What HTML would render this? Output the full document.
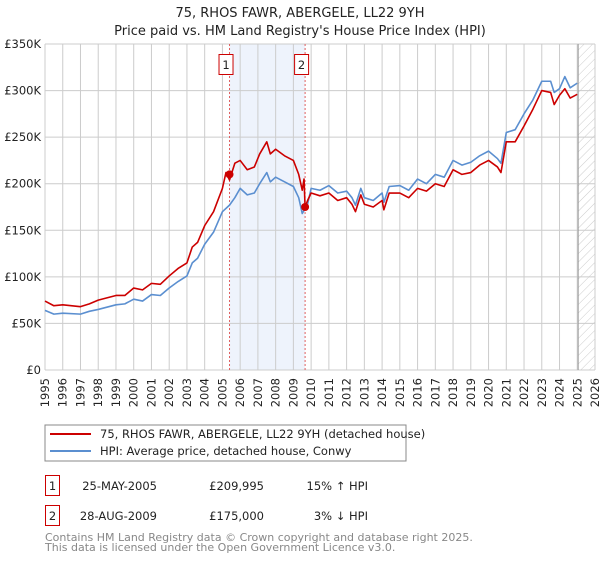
<!DOCTYPE html>
<html><head><meta charset="utf-8"><style>
body{margin:0;background:#fff;font-family:"DejaVu Sans","Liberation Sans",sans-serif;}
svg text{font-family:"DejaVu Sans","Liberation Sans",sans-serif;}
</style></head><body>
<svg id="c" width="600" height="560" xmlns="http://www.w3.org/2000/svg">
<defs><pattern id="hatch" width="6" height="6" patternUnits="userSpaceOnUse" patternTransform="rotate(45)"><line x1="0" y1="0" x2="0" y2="6" stroke="#ccc" stroke-width="1"/></pattern></defs>
<text x="300" y="17" text-anchor="middle" font-size="13" fill="#222">75, RHOS FAWR, ABERGELE, LL22 9YH</text>
<text x="300" y="35" text-anchor="middle" font-size="13" fill="#222">Price paid vs. HM Land Registry's House Price Index (HPI)</text>
<g id="plot"></g>
<rect x="45" y="425" width="361" height="36" fill="#fff" stroke="#888"/>
<line x1="50" y1="434" x2="91" y2="434" stroke="#cc0000" stroke-width="2"/>
<text x="100" y="438" font-size="11.5" fill="#222">75, RHOS FAWR, ABERGELE, LL22 9YH (detached house)</text>
<line x1="50" y1="451" x2="91" y2="451" stroke="#5b8fd0" stroke-width="2"/>
<text x="100" y="455" font-size="11.5" fill="#222">HPI: Average price, detached house, Conwy</text>
<g font-size="11.5" fill="#222">
<rect x="45.5" y="475.5" width="14" height="20" fill="#fff" stroke="#cc0000"/>
<text x="52.5" y="490" text-anchor="middle">1</text>
<text x="157" y="490" text-anchor="end">25-MAY-2005</text>
<text x="264" y="490" text-anchor="end">£209,995</text>
<text x="368" y="490" text-anchor="end">15% ↑ HPI</text>
<rect x="45.5" y="505.5" width="14" height="20" fill="#fff" stroke="#cc0000"/>
<text x="52.5" y="520" text-anchor="middle">2</text>
<text x="157" y="520" text-anchor="end">28-AUG-2009</text>
<text x="264" y="520" text-anchor="end">£175,000</text>
<text x="368" y="520" text-anchor="end">3% ↓ HPI</text>
</g>
<text x="45" y="541" font-size="11" fill="#888">Contains HM Land Registry data © Crown copyright and database right 2025.</text>
<text x="45" y="551" font-size="11" fill="#888">This data is licensed under the Open Government Licence v3.0.</text>
</svg>
<script>
const hpiYears=[1995,1995.5,1996,1997,1997.5,1998,1999,1999.5,2000,2000.5,2001,2001.5,2002,2002.5,2003,2003.3,2003.6,2004,2004.5,2005,2005.4,2005.7,2006,2006.4,2006.8,2007.1,2007.5,2007.7,2008,2008.5,2009,2009.3,2009.5,2009.8,2010,2010.5,2011,2011.5,2012,2012.3,2012.5,2012.8,2013,2013.5,2014,2014.1,2014.4,2015,2015.5,2016,2016.5,2017,2017.5,2018,2018.5,2019,2019.5,2020,2020.5,2020.7,2021,2021.5,2022,2022.5,2023,2023.5,2023.7,2024,2024.3,2024.6,2025];
const hpiValues=[64,60,61,60,63,65,70,71,76,74,81,80,88,95,101,115,120,135,148,170,177,185,195,188,190,200,212,202,207,202,197,185,168,178,195,193,198,190,192,185,177,195,185,182,190,180,197,198,193,205,200,210,207,225,220,223,230,235,227,222,255,258,275,290,310,310,298,302,315,303,308];
const priceYears=[1995,1995.5,1996,1997,1997.5,1998,1999,1999.5,2000,2000.5,2001,2001.5,2002,2002.5,2003,2003.3,2003.6,2004,2004.5,2005,2005.2,2005.4,2005.7,2006,2006.4,2006.8,2007.1,2007.5,2007.7,2008,2008.5,2009,2009.3,2009.5,2009.6,2009.66,2009.8,2010,2010.5,2011,2011.5,2012,2012.3,2012.5,2012.8,2013,2013.5,2014,2014.1,2014.4,2015,2015.5,2016,2016.5,2017,2017.5,2018,2018.5,2019,2019.5,2020,2020.5,2020.7,2021,2021.5,2022,2022.5,2023,2023.5,2023.7,2024,2024.3,2024.6,2025];
const priceValues=[74,69,70,68,71,75,80,80,88,86,93,92,101,109,115,132,137,155,170,195,212,204,222,225,215,218,232,245,232,237,230,225,210,193,205,175,182,190,187,190,182,185,178,170,188,178,175,182,172,190,190,185,195,192,200,197,215,210,212,220,225,218,212,245,245,262,280,300,298,285,295,302,292,296];
const saleYears=[2005.4,2009.66];
const saleValues=[209.995,175];
const yTicks=[0,50,100,150,200,250,300,350];
const yTickLabels=["£0","£50K","£100K","£150K","£200K","£250K","£300K","£350K"];
const xTicks=[1995,1996,1997,1998,1999,2000,2001,2002,2003,2004,2005,2006,2007,2008,2009,2010,2011,2012,2013,2014,2015,2016,2017,2018,2019,2020,2021,2022,2023,2024,2025,2026];
const X0=45,X1=595,Y0=370,Y1=44;
const xs=y=>X0+(y-1995)/31*(X1-X0);
const ys=v=>Y0-v/350*(Y0-Y1);
const NS="http://www.w3.org/2000/svg";
const g=document.getElementById('plot');
function mk(t,a){const e=document.createElementNS(NS,t);for(const k in a)e.setAttribute(k,a[k]);g.appendChild(e);return e;}
const shade=mk('rect',{x:xs(saleYears[0]),y:Y1,width:xs(saleYears[1])-xs(saleYears[0]),height:Y0-Y1,fill:'#eef3fc'});


const hat=mk('rect',{x:xs(2025.05),y:Y1,width:X1-xs(2025.05),height:Y0-Y1,fill:'url(#hatch)'});


xTicks.forEach(t=>{const l=mk('line',{x1:xs(t),x2:xs(t),y1:Y1,y2:Y0,stroke:'#ccc','stroke-width':1});


const tx=mk('text',{x:0,y:0,'font-size':11.5,fill:'#222','text-anchor':'end',transform:`translate(${xs(t)+4},${Y0+8}) rotate(-90)`});tx.textContent=t;

});
yTicks.forEach((t,i)=>{const l=mk('line',{x1:X0,x2:X1,y1:ys(t),y2:ys(t),stroke:'#ccc','stroke-width':1});


const tx=mk('text',{x:X0-4,y:ys(t)+4,'font-size':11.5,fill:'#222','text-anchor':'end'});tx.textContent=yTickLabels[i];

});
const vl=mk('line',{x1:xs(2025.05),x2:xs(2025.05),y1:Y1,y2:Y0,stroke:'#999','stroke-width':1});


saleYears.forEach((s,i)=>{const l=mk('line',{x1:xs(s),x2:xs(s),y1:Y1,y2:Y0,stroke:'#e06060','stroke-width':1,'stroke-dasharray':'2,2'});


const r=mk('rect',{x:xs(s)-10.5,y:54.5,width:14,height:20,fill:'#fff',stroke:'#cc0000'});


const tx=mk('text',{x:xs(s)-3.5,y:69,'font-size':11.5,fill:'#222','text-anchor':'middle'});tx.textContent=i+1;

});
function line(Y,V,c,n){const p=mk('polyline',{points:Y.map((y,i)=>xs(y)+','+ys(V[i])).join(' '),fill:'none',stroke:c,'stroke-width':1.6,'stroke-linejoin':'round'});

}
line(hpiYears,hpiValues,'#5b8fd0','hpi-line');
line(priceYears,priceValues,'#cc0000','price-line');
saleYears.forEach((s,i)=>{const c=mk('circle',{cx:xs(s),cy:ys(saleValues[i]),r:4,fill:'#cc0000'});

});
</script>
</body></html>
